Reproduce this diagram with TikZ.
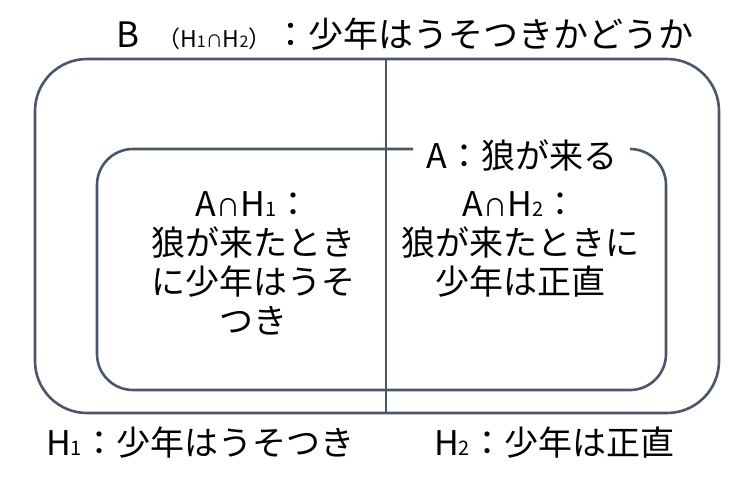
\documentclass[tikz,border=0pt]{standalone}
\usepackage{fontspec}
\setmainfont{Noto Sans CJK JP}
\definecolor{linec}{RGB}{76,86,107}
\newcommand\smalldigit[1]{{\fontsize{20}{20}\selectfont #1}}
\newcommand\tinydigit[1]{{\fontsize{16}{16}\selectfont #1}}
\newcommand\capsym{{\fontsize{24}{24}\selectfont ∩}}
\newcommand\tinycap{{\fontsize{17}{17}\selectfont ∩}}
\begin{document}
\begin{tikzpicture}[x=1pt,y=-1pt,
  frame/.style={draw=linec,line width=2.6pt},
  txt/.style={font=\fontsize{34}{39}\selectfont,inner sep=0pt,align=center}]
\useasboundingbox (0,0) rectangle (755,485);
% outer set B
\draw[frame,rounded corners=52pt] (35,59) rectangle (719,413);
% divider H1 | H2
\draw[frame] (386,59) -- (386,413);
% inner set A (open at the label)
\draw[frame,rounded corners=36pt] (413,149) -- (97,149) -- (97,390) -- (666,390) -- (666,149) -- (630,149);
% labels
\node[txt,anchor=base west,font=\fontsize{35}{39}\selectfont] (B) at (116,47) {B\hspace{18pt}{\fontsize{23}{23}\selectfont （H\tinydigit{1}\tinycap H\tinydigit{2}）}\hspace{2pt}：少年はうそつきかどうか};
\node[txt] (A) at (522,155) {A：狼が来る};
\node[txt] (AH1) at (253,263) {A\capsym H\smalldigit{1}：\\狼が来たとき\\に少年はうそ\\つき};
\node[txt] (AH2) at (520,244) {A\capsym H\smalldigit{2}：\\狼が来たときに\\少年は正直};
\node[txt,anchor=base west] (H1) at (46,455) {H\smalldigit{1}：少年はうそつき};
\node[txt,anchor=base west] (H2) at (434,455) {H\smalldigit{2}：少年は正直};
\end{tikzpicture}
\end{document}
